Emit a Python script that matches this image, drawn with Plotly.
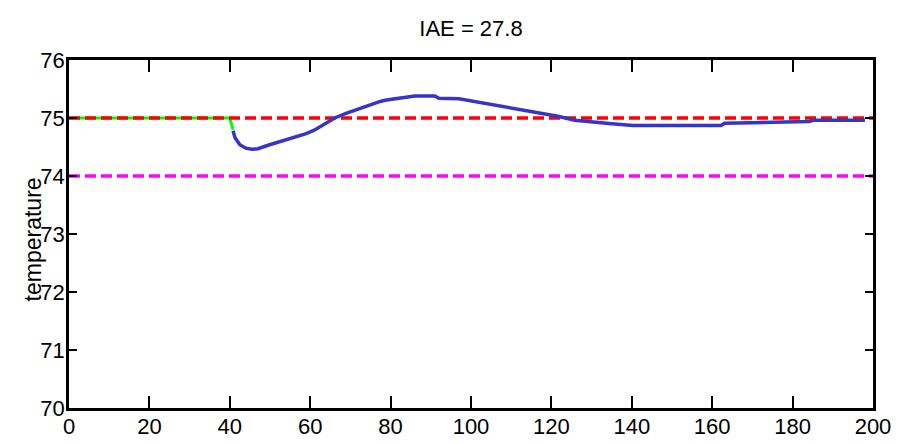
import plotly.graph_objects as go

# Data
t_ref = [0, 200]
setpoint = [75, 75]
limit = [74, 74]

t_green = [0, 40, 40.8]
y_green = [75, 75, 74.8]

t_blue = [40.8, 41.3, 42.5, 44, 45.5, 47, 49.5, 53, 57, 59, 61, 64.4, 66.1, 68.9,
          72, 74.4, 77.6, 79, 81.8, 83, 86, 91, 92, 97, 100.9, 104.2, 108.4,
          113.4, 118.3, 121.6, 125.8, 129.9, 133.6, 135, 140.3, 162.2, 163.1,
          173.4, 174, 184.2, 185, 198]
y_blue = [74.78, 74.66, 74.54, 74.48, 74.46, 74.47, 74.53, 74.6, 74.68, 74.73, 74.79,
          74.92, 75.0, 75.08, 75.16, 75.22, 75.29, 75.31, 75.34, 75.35, 75.38,
          75.38, 75.34, 75.33, 75.28, 75.24, 75.19, 75.13, 75.07, 75.03, 74.96,
          74.94, 74.92, 74.9, 74.87, 74.87, 74.91, 74.92, 74.93, 74.94, 74.96,
          74.96]

title_text = "IAE = 27.8"
ylabel = "temperature"
x_ticks = [0, 20, 40, 60, 80, 100, 120, 140, 160, 180, 200]
y_ticks = [70, 71, 72, 73, 74, 75, 76]

fig = go.Figure()
fig.add_trace(go.Scatter(x=t_green, y=y_green, mode="lines",
                         line=dict(color="#00FF00", width=3), showlegend=False))
fig.add_trace(go.Scatter(x=t_ref, y=setpoint, mode="lines",
                         line=dict(color="#FF0000", width=3.5, dash="11px,5px"), showlegend=False))
fig.add_trace(go.Scatter(x=t_ref, y=limit, mode="lines",
                         line=dict(color="#FF00FF", width=3.5, dash="11px,5px"), showlegend=False))
fig.add_trace(go.Scatter(x=t_blue, y=y_blue, mode="lines",
                         line=dict(color="#3535C8", width=3.5), showlegend=False))

font = dict(family="Liberation Sans, Arial, sans-serif", size=22, color="black")

fig.update_layout(
    width=907, height=443,
    margin=dict(l=61, r=42, t=52, b=36),
    paper_bgcolor="white", plot_bgcolor="white",
    font=font,
    title=dict(text=title_text, x=(463) / 907, xanchor="center", y=1 - 20 / 443, yanchor="middle",
               font=dict(size=22)),
    xaxis=dict(range=[0, 200], tickvals=x_ticks, ticks="inside", ticklen=12, tickwidth=2,
               showline=True, linewidth=2.5, linecolor="black", mirror="ticks",
               showgrid=False, zeroline=False, tickcolor="black", ticklabelstandoff=-3),
    yaxis=dict(range=[70, 76], tickvals=y_ticks, ticks="inside", ticklen=8, tickwidth=2,
               showline=True, linewidth=2.5, linecolor="black", mirror="ticks",
               showgrid=False, zeroline=False, tickcolor="black", ticklabelstandoff=-3),
    annotations=[dict(text=ylabel, textangle=-90, xref="paper", yref="paper",
                      x=(25 - 61) / 804, y=(407 - 235) / 355, xanchor="center", yanchor="middle",
                      showarrow=False, font=dict(size=23))],
)

fig.write_html("out.html")
